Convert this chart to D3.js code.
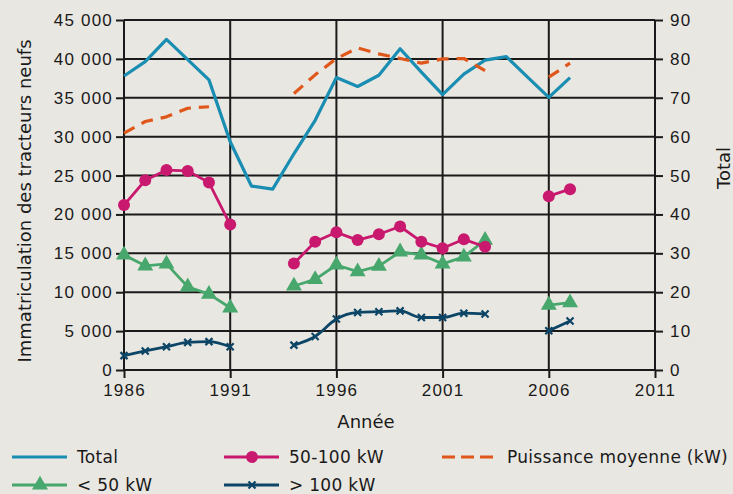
<!DOCTYPE html>
<html>
<head>
<meta charset="utf-8">
<script src="https://cdn.jsdelivr.net/npm/d3@7"></script>
<style>
	body { margin: 0; background: #e9e7e1; }
	svg { display: block; font-family: "DejaVu Sans", sans-serif; }
	.tick-label { font-size: 17px; fill: #1a1a1a; letter-spacing: 1.2px; }
	.axis-title { font-size: 18px; fill: #1a1a1a; }
	.legend-text { font-size: 17px; fill: #1a1a1a; letter-spacing: 0.3px; }
</style>
</head>
<body>
<div id="chart"></div>
<script>
// chart values (null = no data that year)
var years = [1986, 1987, 1988, 1989, 1990, 1991, 1992, 1993, 1994, 1995, 1996,
	1997, 1998, 1999, 2000, 2001, 2002, 2003, 2004, 2005, 2006, 2007];
var total = [37800, 39650, 42500, 39900, 37300, 29350, 23650, 23250, 27800, 32100, 37600,
	36450, 37900, 41300, 38300, 35400, 38050, 39850, 40300, 37650, 35050, 37600];
var puissanceMoyenne = [60.9, 63.9, 65.1, 67.3, 67.7, null, null, null, 71.1, 75.9, 80.1,
	82.8, 81.3, 80.1, 78.9, 80.0, 80.1, 77.0, null, null, 75.3, 78.9];
var kw50to100 = [21200, 24400, 25700, 25600, 24100, 18700, null, null, 13700, 16500, 17700,
	16700, 17450, 18450, 16500, 15650, 16800, 15850, null, null, 22350, 23250];
var kwBelow50 = [14800, 13400, 13650, 10700, 9750, 8000, null, null, 10800, 11650, 13500,
	12650, 13350, 15200, 14800, 13650, 14550, 16700, null, null, 8350, 8650];
var kwAbove100 = [1850, 2450, 3000, 3550, 3650, 3000, null, null, 3200, 4300, 6550,
	7400, 7500, 7600, 6750, 6750, 7300, 7200, null, null, 5050, 6300];

var xTicks = [1986, 1991, 1996, 2001, 2006, 2011];
var leftTicks = [0, 5000, 10000, 15000, 20000, 25000, 30000, 35000, 40000, 45000];
var rightTicks = [0, 10, 20, 30, 40, 50, 60, 70, 80, 90];

var colors = {
	total: '#1a8db3',
	puissance: '#e0571b',
	mid: '#c8196f',
	low: '#47a76c',
	high: '#0c4566'
};

var width = 733, height = 494;
var margin = { top: 20, right: 78, bottom: 124, left: 124 };

var svg = d3.select('#chart').append('svg')
	.attr('width', width)
	.attr('height', height);

var x = d3.scaleLinear().domain([1986, 2011]).range([margin.left, width - margin.right]);
var y = d3.scaleLinear().domain([0, 45000]).range([height - margin.bottom, margin.top]);
var yRight = d3.scaleLinear().domain([0, 90]).range([height - margin.bottom, margin.top]);

var fmt = function(d) { return d3.format(',')(d).replace(/,/g, ' '); };

// grid
svg.append('g').selectAll('line.h')
	.data(leftTicks)
	.enter().append('line')
	.attr('x1', x(1986)).attr('x2', x(2011))
	.attr('y1', function(d) { return y(d); }).attr('y2', function(d) { return y(d); })
	.attr('stroke', '#1a1a1a').attr('stroke-width', 2);

svg.append('g').selectAll('line.v')
	.data(xTicks)
	.enter().append('line')
	.attr('x1', function(d) { return x(d); }).attr('x2', function(d) { return x(d); })
	.attr('y1', y(45000)).attr('y2', y(0))
	.attr('stroke', '#1a1a1a').attr('stroke-width', 2);

// axes
var leftAxis = svg.append('g')
	.attr('transform', 'translate(' + x(1986) + ',0)')
	.call(d3.axisLeft(y).tickValues(leftTicks).tickFormat(fmt).tickSize(8).tickPadding(3));
var rightAxis = svg.append('g')
	.attr('transform', 'translate(' + x(2011) + ',0)')
	.call(d3.axisRight(yRight).tickValues(rightTicks).tickSize(8).tickPadding(7));
var bottomAxis = svg.append('g')
	.attr('transform', 'translate(0,' + y(0) + ')')
	.call(d3.axisBottom(x).tickValues(xTicks).tickFormat(d3.format('d')).tickSize(8).tickPadding(6));

[leftAxis, rightAxis, bottomAxis].forEach(function(a) {
	a.select('.domain').remove();
	a.selectAll('.tick line').attr('stroke', '#1a1a1a').attr('stroke-width', 2);
	a.selectAll('.tick text').attr('class', 'tick-label').attr('font-size', null).attr('font-family', null);
});

// axis titles
svg.append('text')
	.attr('class', 'axis-title')
	.attr('transform', 'translate(31,201) rotate(-90)')
	.attr('text-anchor', 'middle')
	.text('Immatriculation des tracteurs neufs');
svg.append('text')
	.attr('class', 'axis-title')
	.attr('transform', 'translate(730,168) rotate(-90)')
	.attr('text-anchor', 'middle')
	.text('Total');
svg.append('text')
	.attr('class', 'axis-title')
	.attr('x', 366).attr('y', 428)
	.attr('text-anchor', 'middle')
	.text('Année');

// series
function seriesData(values) {
	return years.map(function(yr, i) { return { year: yr, value: values[i] }; });
}

function drawLine(values, scale, color, opts) {
	var line = d3.line()
		.defined(function(d) { return d.value != null; })
		.x(function(d) { return x(d.year); })
		.y(function(d) { return scale(d.value); });
	if (opts.curve) line.curve(opts.curve);
	svg.append('path')
		.datum(seriesData(values))
		.attr('d', line)
		.attr('fill', 'none')
		.attr('stroke', color)
		.attr('stroke-width', opts.width)
		.attr('stroke-dasharray', opts.dash || null)
		.attr('stroke-linejoin', 'round');
}

function drawMarkers(values, scale, color, kind) {
	var pts = seriesData(values).filter(function(d) { return d.value != null; });
	var g = svg.append('g');
	pts.forEach(function(d) {
		appendMarker(g, x(d.year), scale(d.value), color, kind);
	});
}

function appendMarker(g, cx, cy, color, kind) {
	if (kind == 'circle') {
		g.append('circle').attr('cx', cx).attr('cy', cy).attr('r', 6).attr('fill', color);
	} else if (kind == 'triangle') {
		g.append('path')
			.attr('d', d3.symbol().type(d3.symbolTriangle).size(110)())
			.attr('transform', 'translate(' + cx + ',' + cy + ')')
			.attr('fill', color);
	} else if (kind == 'cross') {
		var s = 3.5;
		g.append('path')
			.attr('d', 'M' + (cx - s) + ',' + (cy - s) + 'L' + (cx + s) + ',' + (cy + s) +
				'M' + (cx + s) + ',' + (cy - s) + 'L' + (cx - s) + ',' + (cy + s))
			.attr('stroke', color).attr('stroke-width', 2.2).attr('fill', 'none');
	}
}

drawLine(kwAbove100, y, colors.high, { width: 2.8, curve: d3.curveMonotoneX });
drawMarkers(kwAbove100, y, colors.high, 'cross');
drawLine(kwBelow50, y, colors.low, { width: 2.8 });
drawMarkers(kwBelow50, y, colors.low, 'triangle');
drawLine(kw50to100, y, colors.mid, { width: 2.8 });
drawMarkers(kw50to100, y, colors.mid, 'circle');
drawLine(total, y, colors.total, { width: 3.2 });
drawLine(puissanceMoyenne, yRight, colors.puissance, { width: 3.2, dash: '12,8' });

// legend
var legendItems = [
	{ label: 'Total', color: colors.total, marker: null, x: 12, y: 457 },
	{ label: '50-100 kW', color: colors.mid, marker: 'circle', x: 224, y: 457 },
	{ label: 'Puissance moyenne (kW)', color: colors.puissance, marker: null, dash: '13,6', x: 442, y: 457 },
	{ label: '< 50 kW', color: colors.low, marker: 'triangle', x: 12, y: 485 },
	{ label: '> 100 kW', color: colors.high, marker: 'cross', x: 224, y: 485 }
];

var legend = svg.append('g');
legendItems.forEach(function(item) {
	var len = item.dash ? 51 : 55;
	legend.append('line')
		.attr('x1', item.x).attr('x2', item.x + len)
		.attr('y1', item.y).attr('y2', item.y)
		.attr('stroke', item.color).attr('stroke-width', 3.2)
		.attr('stroke-dasharray', item.dash || null);
	if (item.marker) appendMarker(legend, item.x + 28, item.y, item.color, item.marker);
	legend.append('text')
		.attr('class', 'legend-text')
		.attr('x', item.x + 65).attr('y', item.y + 6)
		.text(item.label);
});
</script>
</body>
</html>
